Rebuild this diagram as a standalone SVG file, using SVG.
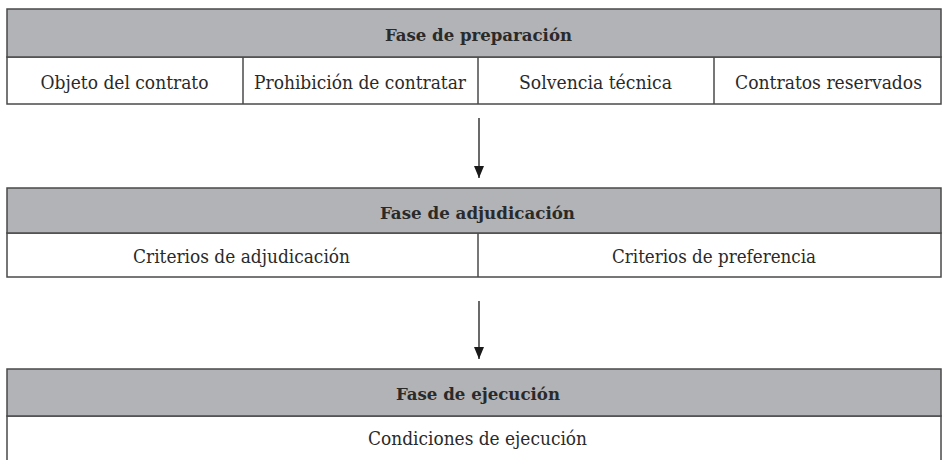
<svg xmlns="http://www.w3.org/2000/svg" width="943" height="460" viewBox="0 0 943 460">
<style>
.hdr{fill:#b2b3b6;stroke:#4a4a4a;stroke-width:1.5}
.cell{fill:#ffffff;stroke:#4a4a4a;stroke-width:1.5}
.div{stroke:#4a4a4a;stroke-width:1.5}
.t{font-family:"DejaVu Serif","Liberation Serif",serif;font-stretch:condensed;font-size:18px;fill:#2a2a2a;text-anchor:middle}
.h{font-family:"DejaVu Serif","Liberation Serif",serif;font-stretch:condensed;font-size:17.5px;font-weight:bold;fill:#2a2a2a;text-anchor:middle}
.conn{stroke:#1a1a1a;stroke-width:1.3;fill:none}
</style>
<defs>
<marker id="ah" viewBox="0 0 12 10" refX="12" refY="5" markerWidth="12" markerHeight="10" markerUnits="userSpaceOnUse" orient="auto">
<path d="M0,0 L12,5 L0,10 z" fill="#1a1a1a"/>
</marker>
</defs>
<g id="fase-preparacion">
<rect class="cell" x="7" y="57" width="934" height="47"/>
<rect class="hdr" x="7" y="9" width="934" height="48"/>
<line class="div" x1="243" y1="57" x2="243" y2="104"/>
<line class="div" x1="478" y1="57" x2="478" y2="104"/>
<line class="div" x1="714" y1="57" x2="714" y2="104"/>
<text class="h" x="478.5" y="40.5" textLength="187" lengthAdjust="spacingAndGlyphs">Fase de preparación</text>
<text class="t" x="124.5" y="89" textLength="168" lengthAdjust="spacingAndGlyphs">Objeto del contrato</text>
<text class="t" x="360" y="89" textLength="212" lengthAdjust="spacingAndGlyphs">Prohibición de contratar</text>
<text class="t" x="595.5" y="89" textLength="153" lengthAdjust="spacingAndGlyphs">Solvencia técnica</text>
<text class="t" x="828.5" y="89" textLength="187" lengthAdjust="spacingAndGlyphs">Contratos reservados</text>
</g>
<g id="fase-adjudicacion">
<rect class="cell" x="7" y="233" width="934" height="44"/>
<rect class="hdr" x="7" y="188" width="934" height="45"/>
<line class="div" x1="478" y1="233" x2="478" y2="277"/>
<text class="h" x="477.5" y="219" textLength="195" lengthAdjust="spacingAndGlyphs">Fase de adjudicación</text>
<text class="t" x="241.5" y="263" textLength="217" lengthAdjust="spacingAndGlyphs">Criterios de adjudicación</text>
<text class="t" x="714" y="263" textLength="204" lengthAdjust="spacingAndGlyphs">Criterios de preferencia</text>
</g>
<g id="fase-ejecucion">
<rect class="cell" x="7" y="416" width="934" height="60"/>
<rect class="hdr" x="7" y="369" width="934" height="47"/>
<text class="h" x="478" y="400" textLength="164" lengthAdjust="spacingAndGlyphs">Fase de ejecución</text>
<text class="t" x="477.5" y="445" textLength="219" lengthAdjust="spacingAndGlyphs">Condiciones de ejecución</text>
</g>
<g id="connectors">
<line class="conn" x1="479" y1="118" x2="479" y2="178" marker-end="url(#ah)"/>
<line class="conn" x1="479" y1="301" x2="479" y2="359" marker-end="url(#ah)"/>
</g>
</svg>
